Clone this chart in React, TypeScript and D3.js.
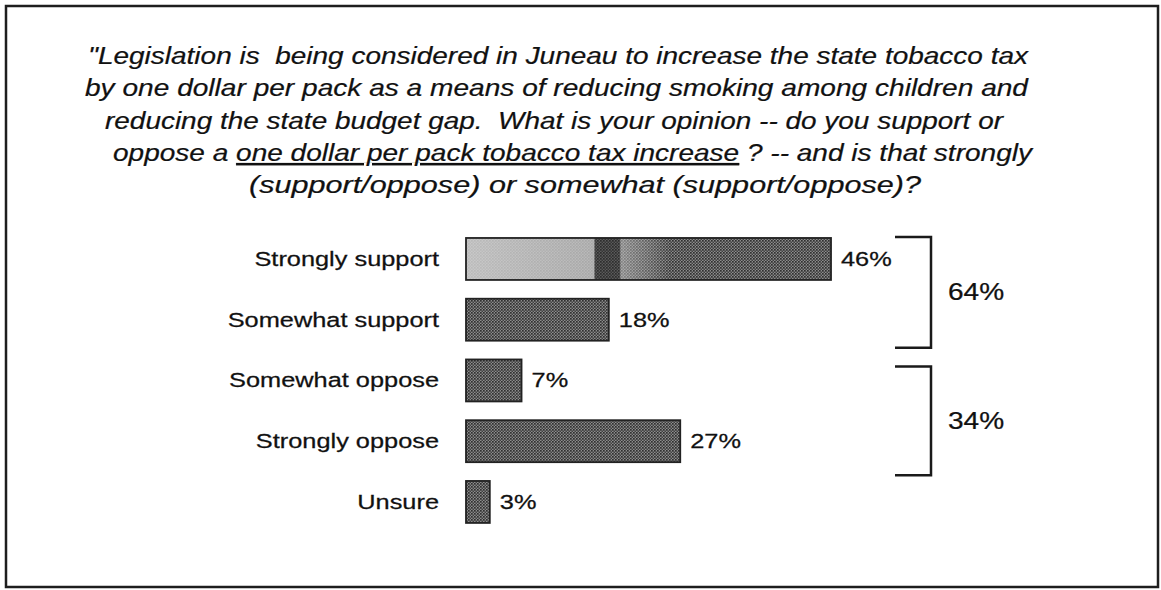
import React from "react";
import * as d3 from "d3";

const categories = ["Strongly support", "Somewhat support", "Somewhat oppose", "Strongly oppose", "Unsure"];
const values = [46, 18, 7, 27, 3];
const groupLabels = ["64%", "34%"];
const groupMembers = [[0, 1], [2, 3]];
const titleLines: { pre: string; under?: string; post?: string; x: number; len: number }[] = [
  { pre: "\"Legislation is  being considered in Juneau to increase the state tobacco tax", x: 88, len: 940 },
  { pre: "by one dollar per pack as a means of reducing smoking among children and", x: 85, len: 943 },
  { pre: "reducing the state budget gap.  What is your opinion -- do you support or", x: 105, len: 898 },
  { pre: "oppose a ", under: "one dollar per pack tobacco tax increase", post: " ? -- and is that strongly", x: 113, len: 919 },
  { pre: "(support/oppose) or somewhat (support/oppose)?", x: 249, len: 672 },
];
const titleBaselines = [64, 96, 129, 161, 193];

const W = 1161;
const H = 590;
const FONT = "'Liberation Sans', Arial, Helvetica, sans-serif";
const INK = "#111";
const STRETCH = 1.3;

export default function App() {
  const x = d3.scaleLinear().domain([0, 100]).range([466, 466 + 793.5]);
  const y = d3.scaleBand<string>().domain(categories).range([219.2, 541.7]).padding(0.309);
  const bw = y.bandwidth();

  const brackets = groupMembers.map((m, i) => {
    const first = y(categories[m[0]])!;
    const last = y(categories[m[m.length - 1]])! + bw;
    const top = i === 0 ? first - 1 : first + 7;
    const bottom = i === 0 ? last + 7 : last + 13;
    return { top, bottom, label: groupLabels[i] };
  });

  const sText = (
    key: string | number,
    tx: number,
    ty: number,
    str: string,
    size: number,
    anchor: "start" | "end",
    stretch: number
  ) => (
    <text
      key={key}
      transform={`translate(${tx},${ty}) scale(${stretch},1)`}
      textAnchor={anchor}
      fontFamily={FONT}
      fontSize={size}
      fill={INK}
      stroke={INK}
      strokeWidth={0.25}
    >
      {str}
    </text>
  );

  return (
    <svg width={W} height={H} style={{ position: "absolute", left: 0, top: 0, background: "#fff" }}>
      <defs>
        <pattern id="halftone" width={3} height={3} patternUnits="userSpaceOnUse">
          <rect width={3} height={3} fill="#8c8c8c" />
          <rect x={0} y={0} width={1.7} height={1.7} fill="#303030" />
          <rect x={1.5} y={1.5} width={1.5} height={1.5} fill="#404040" />
        </pattern>
        <linearGradient id="firstBar" x1="0" x2="1" y1="0" y2="0">
          <stop offset="0" stopColor="#d4d4d4" stopOpacity={0.85} />
          <stop offset="0.35" stopColor="#c4c4c4" stopOpacity={0.8} />
          <stop offset="0.355" stopColor="#2a2a2a" stopOpacity={0.5} />
          <stop offset="0.42" stopColor="#2a2a2a" stopOpacity={0.5} />
          <stop offset="0.425" stopColor="#c8c8c8" stopOpacity={0.55} />
          <stop offset="0.5" stopColor="#b8b8b8" stopOpacity={0.3} />
          <stop offset="0.56" stopColor="#b8b8b8" stopOpacity={0} />
          <stop offset="1" stopColor="#b8b8b8" stopOpacity={0} />
        </linearGradient>
      </defs>

      {/* frame */}
      <rect x={6} y={6} width={1152} height={581} fill="none" stroke="#1e1e1e" strokeWidth={2.5} />

      {/* title */}
      {titleLines.map((l, i) => (
        <text
          key={i}
          x={l.x}
          y={titleBaselines[i]}
          textLength={l.len}
          lengthAdjust="spacingAndGlyphs"
          fontFamily={FONT}
          fontStyle="italic"
          fontSize={23}
          fill={INK}
          stroke={INK}
          strokeWidth={0.2}
          style={{ whiteSpace: "pre" }}
        >
          {l.pre}
          {l.under ? <tspan textDecoration="underline">{l.under}</tspan> : null}
          {l.post ? l.post : null}
        </text>
      ))}

      {/* bars */}
      {categories.map((c, i) => {
        const by = y(c)!;
        const x0 = x(0);
        const w = x(values[i]) - x0;
        return (
          <g key={c}>
            <rect x={x0} y={by} width={w} height={bw} fill="url(#halftone)" />
            {i === 0 ? <rect x={x0} y={by} width={w} height={bw} fill="url(#firstBar)" /> : null}
            <rect x={x0} y={by} width={w} height={bw} fill="none" stroke="#222" strokeWidth={1.8} />
          </g>
        );
      })}

      {/* category labels */}
      {categories.map((c, i) => sText("c" + i, 439, y(c)! + bw / 2 + 7, c, 19.5, "end", STRETCH))}

      {/* value labels */}
      {categories.map((c, i) => sText("v" + i, x(values[i]) + 10, y(c)! + bw / 2 + 7, values[i] + "%", 19.5, "start", STRETCH))}

      {/* brackets */}
      {brackets.map((b, i) => (
        <g key={"b" + i}>
          <path
            d={`M895,${b.top} H931 V${b.bottom} H895`}
            fill="none"
            stroke="#1a1a1a"
            strokeWidth={2.5}
          />
          {sText("g" + i, 948, (b.top + b.bottom) / 2 + 8, b.label, 23, "start", 1.22)}
        </g>
      ))}
    </svg>
  );
}
